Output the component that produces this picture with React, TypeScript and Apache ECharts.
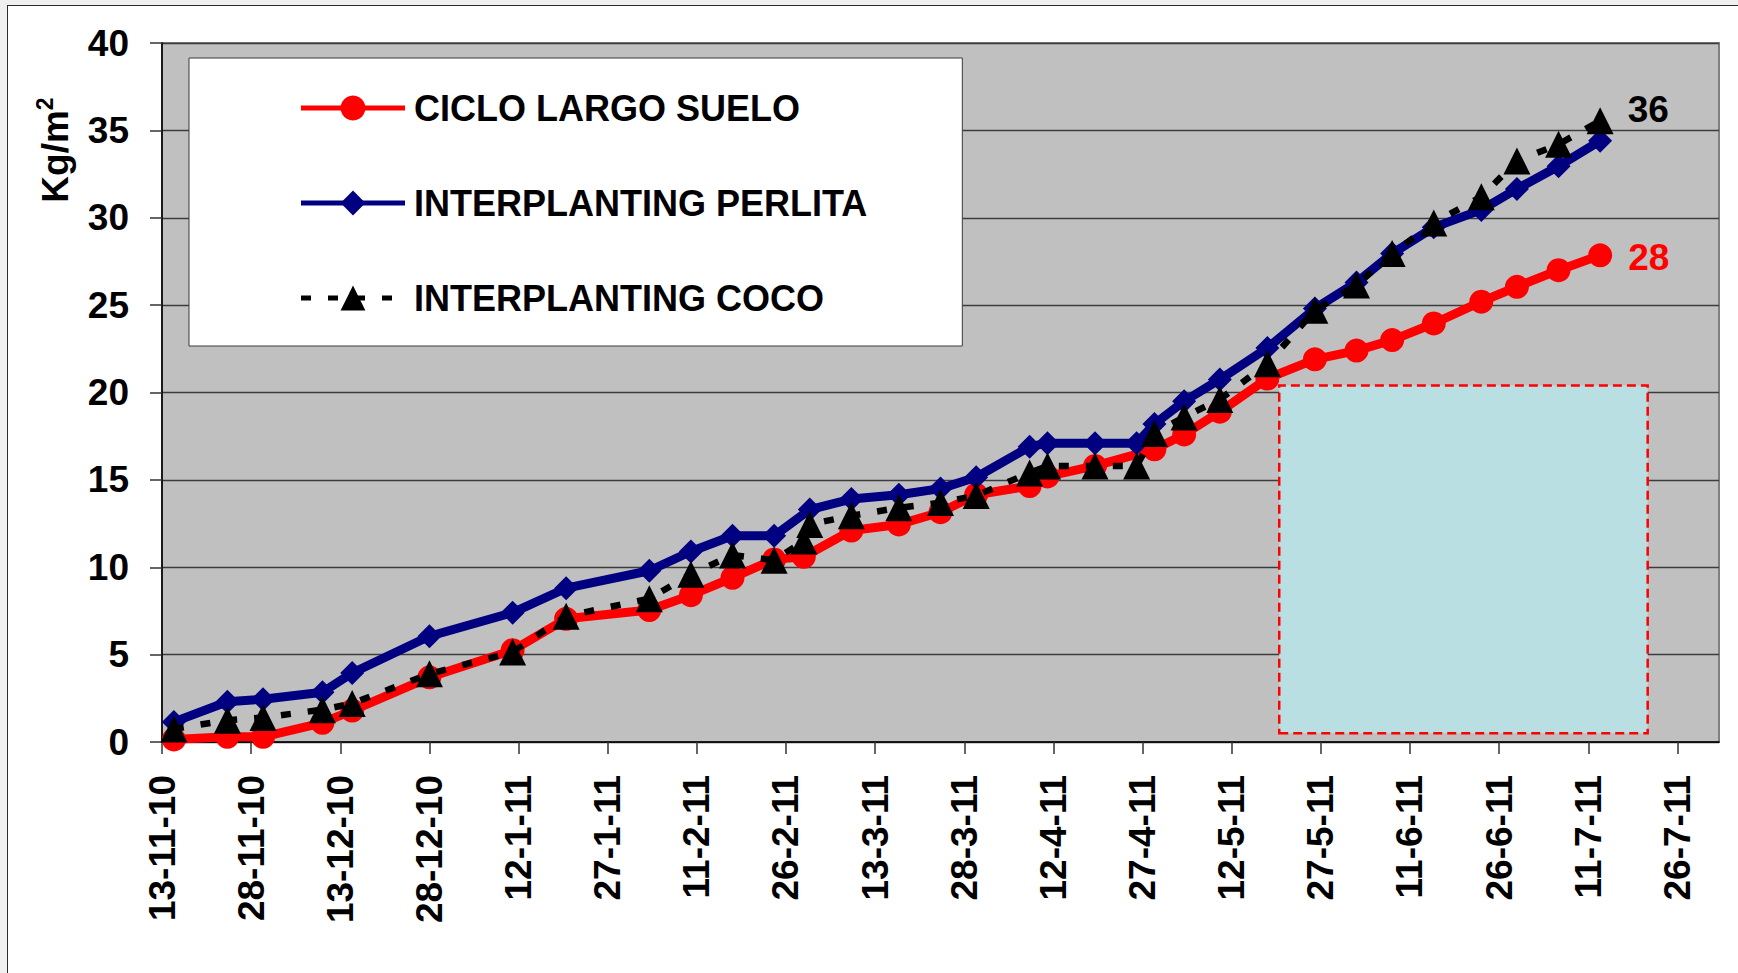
import React, { useEffect, useRef } from "react";
import * as echarts from "echarts";

// ---------- data ----------
const seriesNames = ["CICLO LARGO SUELO", "INTERPLANTING PERLITA", "INTERPLANTING COCO"];

const sueloDates = [
  "2010-11-15", "2010-11-24", "2010-11-30", "2010-12-10", "2010-12-15", "2010-12-28",
  "2011-01-11", "2011-01-20", "2011-02-03", "2011-02-10", "2011-02-17", "2011-02-24",
  "2011-03-01", "2011-03-09", "2011-03-17", "2011-03-24", "2011-03-30", "2011-04-08",
  "2011-04-11", "2011-04-19", "2011-04-29", "2011-05-04", "2011-05-10", "2011-05-18",
  "2011-05-26", "2011-06-02", "2011-06-08", "2011-06-15", "2011-06-23", "2011-06-29",
  "2011-07-06", "2011-07-13",
];
const sueloValues = [
  0.15, 0.3, 0.3, 1.1, 1.8, 3.7, 5.25, 7.05, 7.55, 8.4, 9.4, 10.45, 10.6, 12.1, 12.45,
  13.15, 14.15, 14.65, 15.2, 15.8, 16.75, 17.6, 18.9, 20.8, 21.9, 22.4, 23.0, 23.95, 25.2,
  26.05, 27.0, 27.85,
];

const perlitaDates = [
  "2010-11-15", "2010-11-24", "2010-11-30", "2010-12-10", "2010-12-15", "2010-12-28",
  "2011-01-11", "2011-01-20", "2011-02-03", "2011-02-10", "2011-02-17", "2011-02-24",
  "2011-03-02", "2011-03-09", "2011-03-17", "2011-03-24", "2011-03-30", "2011-04-08",
  "2011-04-11", "2011-04-19", "2011-04-26", "2011-04-29", "2011-05-04", "2011-05-10",
  "2011-05-18", "2011-05-26", "2011-06-02", "2011-06-08", "2011-06-15", "2011-06-23",
  "2011-06-29", "2011-07-06", "2011-07-13",
];
const perlitaValues = [
  1.15, 2.3, 2.45, 2.85, 3.95, 6.05, 7.4, 8.8, 9.8, 10.9, 11.8, 11.8, 13.3, 13.9, 14.15,
  14.5, 15.15, 16.9, 17.1, 17.1, 17.1, 18.2, 19.5, 20.75, 22.55, 24.8, 26.3, 27.95, 29.45,
  30.45, 31.65, 32.95, 34.4,
];

const cocoDates = [
  "2010-11-15", "2010-11-24", "2010-11-30", "2010-12-10", "2010-12-15", "2010-12-28",
  "2011-01-11", "2011-01-20", "2011-02-03", "2011-02-10", "2011-02-17", "2011-02-24",
  "2011-03-01", "2011-03-02", "2011-03-09", "2011-03-17", "2011-03-24", "2011-03-30",
  "2011-04-08", "2011-04-11", "2011-04-19", "2011-04-26", "2011-04-29", "2011-05-04",
  "2011-05-10", "2011-05-18", "2011-05-26", "2011-06-02", "2011-06-08", "2011-06-15",
  "2011-06-23", "2011-06-29", "2011-07-06", "2011-07-13",
];
const cocoValues = [
  0.75, 1.25, 1.4, 1.85, 2.2, 3.9, 5.15, 7.2, 8.2, 9.6, 10.7, 10.4, 11.5, 12.45, 12.95,
  13.4, 13.7, 14.1, 15.4, 15.8, 15.8, 15.8, 17.65, 18.6, 19.6, 21.65, 24.7, 26.15, 27.95,
  29.7, 31.2, 33.25, 34.2, 35.55,
];

// axis settings (x axis: days counted from the first tick date, one tick every 15 days)
const xAxisStartDate = "2010-11-13";
const xAxisEndDate = "2011-08-02";
const xTickDays = 15;
const yMin = 0;
const yMax = 40;
const yStep = 5;
const yAxisTitle = "Kg/m";

// highlighted box (annotation, in data units)
const boxFromDate = "2011-05-20";
const boxToDate = "2011-07-21";
const boxLow = 0.5;
const boxHigh = 20.4;

// ---------- helpers ----------
const DAY_MS = 86400000;
const utc = (s: string) => {
  const [y, m, d] = s.split("-").map(Number);
  return Date.UTC(y, m - 1, d);
};
const ORIGIN = utc(xAxisStartDate);
const toDay = (s: string) => (utc(s) - ORIGIN) / DAY_MS;
const fmtDay = (v: number) => {
  const dt = new Date(ORIGIN + v * DAY_MS);
  const yy = String(dt.getUTCFullYear() % 100).padStart(2, "0");
  return `${dt.getUTCDate()}-${dt.getUTCMonth() + 1}-${yy}`;
};

const FONT = "'Liberation Sans', Arial, Helvetica, sans-serif";

const buildData = (dates: string[], values: number[], lastLabel: any) =>
  dates.map((d, i) => {
    const item: any = { value: [toDay(d), values[i]] };
    if (i === dates.length - 1) item.label = lastLabel;
    return item;
  });

export default function App() {
  const ref = useRef<HTMLDivElement>(null);

  useEffect(() => {
    if (!ref.current) return;
    const chart = echarts.init(ref.current, null, { renderer: "svg" });

    const option: any = {
      animation: false,
      backgroundColor: "transparent",
      textStyle: { fontFamily: FONT },
      grid: {
        left: 162,
        top: 43,
        right: 19,
        bottom: 231,
        containLabel: false,
        outerBoundsMode: "none",
        show: true,
        backgroundColor: "#C0C0C0",
        borderColor: "#808080",
        borderWidth: 2,
      },
      legend: {
        orient: "vertical",
        left: 189,
        top: 58,
        padding: [32, 95, 30, 109.5],
        backgroundColor: "#FFFFFF",
        borderColor: "#3a3a3a",
        borderWidth: 1,
        itemWidth: 104,
        itemHeight: 31,
        itemGap: 59,
        selectedMode: false,
        lineStyle: { width: 5 },
        textStyle: {
          fontFamily: FONT,
          fontSize: 36,
          fontWeight: "bold",
          color: "#000",
          lineHeight: 31,
          padding: [0, 0, 0, 4],
        },
        data: seriesNames,
      },
      xAxis: {
        type: "value",
        min: 0,
        max: toDay(xAxisEndDate),
        interval: xTickDays,
        splitLine: { show: false },
        axisLine: { show: true, onZero: false, lineStyle: { color: "#000", width: 1.6 } },
        axisTick: { show: true, inside: false, length: 12, lineStyle: { color: "#333", width: 1.5 } },
        axisLabel: {
          rotate: 90,
          margin: 33,
          fontFamily: FONT,
          fontSize: 37,
          fontWeight: "bold",
          color: "#000",
          showMaxLabel: false,
          formatter: (v: number) => (v % xTickDays === 0 ? fmtDay(v) : ""),
        },
      },
      yAxis: {
        type: "value",
        min: yMin,
        max: yMax,
        interval: yStep,
        axisLine: { show: true, lineStyle: { color: "#000", width: 1.6 } },
        axisTick: { show: true, inside: false, length: 12, lineStyle: { color: "#333", width: 1.5 } },
        splitLine: { show: true, lineStyle: { color: "#3c3c3c", width: 1.3 } },
        axisLabel: {
          margin: 33,
          fontFamily: FONT,
          fontSize: 37,
          fontWeight: "bold",
          color: "#000",
        },
      },
      graphic: [
        {
          type: "text",
          x: 55,
          y: 150,
          rotation: Math.PI / 2,
          silent: true,
          style: {
            text: `${yAxisTitle}{sup|2}`,
            fontFamily: FONT,
            fontSize: 37,
            fontWeight: "bold",
            fill: "#000",
            align: "center",
            verticalAlign: "middle",
            rich: {
              sup: {
                fontFamily: FONT,
                fontSize: 23,
                fontWeight: "bold",
                fill: "#000",
                verticalAlign: "top",
                lineHeight: 44,
                padding: [0, 0, 16, 0],
              },
            },
          },
        },
      ],
      series: [
        {
          name: seriesNames[0],
          type: "line",
          symbol: "circle",
          symbolSize: 24,
          z: 2,
          lineStyle: { color: "#FF0000", width: 9 },
          itemStyle: { color: "#FF0000" },
          emphasis: { disabled: true },
          data: buildData(sueloDates, sueloValues, {
            show: true,
            position: "right",
            distance: 16,
            offset: [0, 2],
            formatter: (p: any) => String(Math.round(p.value[1])),
            fontFamily: FONT,
            fontSize: 37,
            fontWeight: "bold",
            color: "#FF0000",
          }),
          markArea: {
            silent: true,
            label: { show: false },
            itemStyle: {
              color: "#B9DFE3",
              borderColor: "#FF0000",
              borderWidth: 2.5,
              borderType: [9, 5],
              opacity: 1,
            },
            data: [[{ coord: [toDay(boxFromDate), boxLow] }, { coord: [toDay(boxToDate), boxHigh] }]],
          },
        },
        {
          name: seriesNames[1],
          type: "line",
          symbol: "diamond",
          symbolSize: 24,
          z: 3,
          lineStyle: { color: "#000080", width: 9 },
          itemStyle: { color: "#000080" },
          emphasis: { disabled: true },
          data: buildData(perlitaDates, perlitaValues, undefined),
        },
        {
          name: seriesNames[2],
          type: "line",
          symbol: "triangle",
          symbolSize: 27,
          z: 4,
          lineStyle: { color: "#000000", width: 6.5, type: [10, 17] },
          itemStyle: { color: "#000000" },
          emphasis: { disabled: true },
          data: buildData(cocoDates, cocoValues, {
            show: true,
            position: "right",
            distance: 14,
            offset: [0, -11],
            formatter: (p: any) => String(Math.round(p.value[1])),
            fontFamily: FONT,
            fontSize: 37,
            fontWeight: "bold",
            color: "#000000",
          }),
        },
      ],
    };

    chart.setOption(option);
    return () => chart.dispose();
  }, []);

  return (
    <div
      style={{
        position: "fixed",
        left: 0,
        top: 0,
        width: 1738,
        height: 973,
        background: "#F0F0F0",
        overflow: "hidden",
      }}
    >
      <div
        style={{
          position: "absolute",
          left: 7,
          top: 5,
          width: 1800,
          height: 1000,
          background: "#FFFFFF",
          borderLeft: "1.5px solid #2b2b2b",
          borderTop: "1.5px solid #2b2b2b",
        }}
      />
      <div ref={ref} style={{ position: "absolute", left: 0, top: 0, width: 1738, height: 973 }} />
    </div>
  );
}
